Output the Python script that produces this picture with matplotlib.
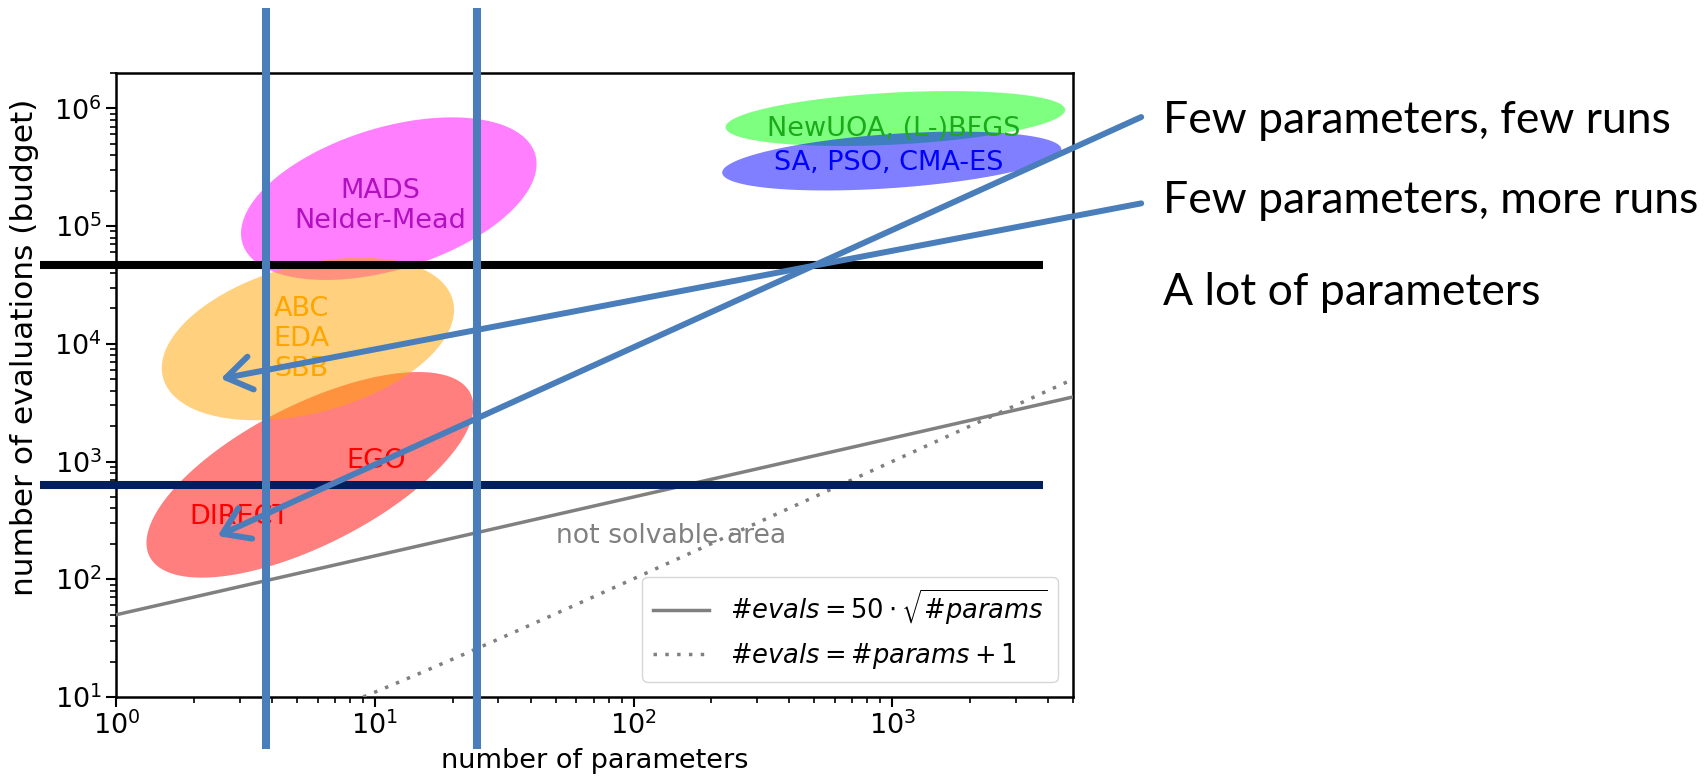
import numpy as np
import matplotlib
matplotlib.use("Agg")
import matplotlib.pyplot as plt
from matplotlib.mathtext import MathTextParser

# ---- data ---------------------------------------------------------------
x_limits = [1, 5000]
y_limits = [10, 2e6]

# reference curves
curve_x = [1, 5000]
dotted_x = [9, 5000]

# algorithm regions: centre (params, evals), semi-axes (px), tilt (deg)
region_names = ["NewUOA", "SA", "MADS", "DIRECT", "ABC"]
region_centres = [(1028, 8.2e5), (996, 3.57e5), (11.3, 1.71e5), (5.6, 771), (5.5, 1.1e4)]
region_axes_px = [(170, 26), (170, 27), (153, 71), (180, 70), (150, 74)]
region_angles = [3, 4, 17, 27, 15]
region_colors = ["lime", "blue", "magenta", "red", "orange"]

# labels inside regions: text, position, colour
label_texts = ["NewUOA, (L-)BFGS", "SA, PSO, CMA-ES", "MADS\nNelder-Mead",
               "DIRECT", "EGO", "ABC\nEDA\nSBB"]
label_pos = [(1010, 6.7e5), (965, 3.43e5), (10.5, 1.47e5), (3.0, 335), (10.1, 1.02e3), (5.2, 1.1e4)]
label_colors = ["#1aaa1a", "#0000ff", "#b010c0", "#ff0000", "#ff0000", "#ffa500"]

# budget thresholds and parameter-count boundaries
budget_levels = [4.7e4, 634]
budget_colors = ["#000000", "#001f5c"]
budget_span = [0.508, 3833]
param_levels = [3.8, 24.8]
param_span = [3.58, 7.1e6]

# scenario arrows: (start, end) in data coordinates
arrow_starts = [(9180, 8.44e5), (9180, 1.56e5)]
arrow_ends = [(2.46, 233), (2.53, 5050)]
scenario_texts = ["Few parameters, few runs", "Few parameters, more runs", "A lot of parameters"]


def math_label(candidates):
    """Return the first mathtext string the parser accepts."""
    parser = MathTextParser("agg")
    for s in candidates:
        try:
            parser.parse(s, 100)
            return s
        except Exception:
            continue
    return candidates[-1]


sqrt_label = math_label([r"$\#evals = 50 \cdot \sqrt{\#params}$",
                         r"$\mathit{\#}evals = 50 \cdot \sqrt{\mathit{\#}params}$",
                         r"$\#\mathit{evals} = 50 \cdot \sqrt{\#\mathit{params}}$",
                         "#evals = 50 \u00b7 \u221a#params"])
lin_label = math_label([r"$\#evals = \#params + 1$",
                        r"$\mathit{\#}evals = \mathit{\#}params + 1$",
                        r"$\#\mathit{evals} = \#\mathit{params} + 1$",
                        "#evals = #params + 1"])

# ---- figure ---------------------------------------------------------------
W, H, DPI = 1708, 781, 100
fig = plt.figure(figsize=(W / DPI, H / DPI), dpi=DPI)
ax_rect = [0.0682, 0.1076, 0.5600, 0.7990]
ax = fig.add_axes(ax_rect)
ax.set_xscale("log")
ax.set_yscale("log")
ax.set_xlim(*x_limits)
ax.set_ylim(*y_limits)

# pixels per decade for shaping the regions in log space
px_x = W * ax_rect[2] / np.log10(x_limits[1] / x_limits[0])
px_y = H * ax_rect[3] / np.log10(y_limits[1] / y_limits[0])

t = np.linspace(0, 2 * np.pi, 200)
for (cx, cy), (a, b), ang, col in zip(region_centres, region_axes_px, region_angles, region_colors):
    th = np.deg2rad(ang)
    dx = a * np.cos(t) * np.cos(th) - b * np.sin(t) * np.sin(th)
    dy = a * np.cos(t) * np.sin(th) + b * np.sin(t) * np.cos(th)
    xs = 10 ** (np.log10(cx) + dx / px_x)
    ys = 10 ** (np.log10(cy) + dy / px_y)
    ax.fill(xs, ys, color=col, alpha=0.5, lw=0, zorder=1)

for txt, (lx, ly), col in zip(label_texts, label_pos, label_colors):
    ax.text(lx, ly, txt, color=col, fontsize=19.5, ha="center", va="center",
            linespacing=1.2, zorder=2)

cx_arr = np.array(curve_x, dtype=float)
ax.plot(cx_arr, 50 * np.sqrt(cx_arr), color="gray", lw=2.5, zorder=3, label=sqrt_label)
dx_arr = np.geomspace(*dotted_x, 50)
ax.plot(dx_arr, dx_arr + 1, color="gray", lw=2.5, ls=(0, (1, 2.4)), zorder=3, label=lin_label)
ax.text(139, 233, "not solvable area", color="gray", fontsize=19.2,
        ha="center", va="center", zorder=2)

leg = ax.legend(loc="lower right", fontsize=18.5, handlelength=2.2,
                borderaxespad=0.6, labelspacing=0.55, framealpha=0.8)
leg.get_frame().set_edgecolor("#cccccc")

ax.tick_params(which="major", length=7, width=1.5, labelsize=19.5, direction="out")
ax.tick_params(which="minor", length=4, width=1.2)
for s in ax.spines.values():
    s.set_linewidth(1.8)
ax.set_xlabel("number of parameters", fontsize=19.5, labelpad=6)
ax.set_ylabel("number of evaluations (budget)", fontsize=22.5)
ax.yaxis.set_label_coords(-0.081, 0.56)

# threshold and boundary lines reaching past the plot frame
for lvl, col in zip(budget_levels, budget_colors):
    ax.plot(budget_span, [lvl, lvl], color=col, lw=5.8, clip_on=False, zorder=5,
            solid_capstyle="butt")
for lvl in param_levels:
    ax.plot([lvl, lvl], param_span, color="#4a7ebb", lw=5.8, clip_on=False, zorder=6,
            solid_capstyle="butt")

for (sx, sy), (ex, ey) in zip(arrow_starts, arrow_ends):
    ax.annotate("", xy=(ex, ey), xytext=(sx, sy), annotation_clip=False, zorder=7,
                arrowprops=dict(arrowstyle="->,head_length=0.9,head_width=0.6",
                                mutation_scale=20, color="#4a7ebb", lw=4.3,
                                shrinkA=0, shrinkB=0))

for txt, yf in zip(scenario_texts, [0.846, 0.743, 0.626]):
    fig.text(0.681, yf, txt, fontsize=32, family="Lato", ha="left", va="center")

fig.savefig("out.png", dpi=DPI)
